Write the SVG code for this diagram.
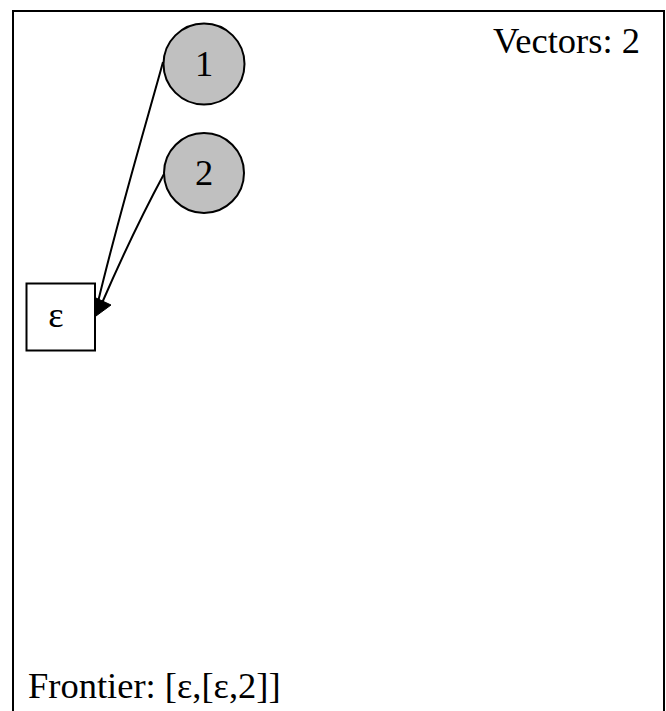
<svg xmlns="http://www.w3.org/2000/svg" width="666" height="711" viewBox="0 0 666 711">
<style>
text{font-family:"Liberation Serif","Times New Roman",serif;font-size:36.5px;fill:#000}
.n{fill:#c0c0c0;stroke:#000;stroke-width:2}
.b{fill:#fff;stroke:#000;stroke-width:2}
.e{fill:none;stroke:#000;stroke-width:2}
</style>
<rect x="0" y="0" width="666" height="711" fill="#fff"/>
<rect x="13" y="11" width="651" height="740" fill="none" stroke="#000" stroke-width="2"/>
<text x="640" y="53" text-anchor="end">Vectors: 2</text>
<text x="28" y="698">Frontier: [ε,[ε,2]]</text>
<g id="connectors">
<path class="e" d="M163,62 C150,110 120,210 98,302"/>
<path class="e" d="M164,174 C150,200 125,250 102,303"/>
<polygon points="96,298 111,305 96,316" fill="#000" stroke="#000" stroke-width="1"/>
</g>
<g id="node1">
<circle class="n" cx="204" cy="64" r="40.5"/>
<text x="204" y="76" text-anchor="middle">1</text>
</g>
<g id="node2">
<circle class="n" cx="204" cy="173" r="40"/>
<text x="204" y="185" text-anchor="middle">2</text>
</g>
<g id="eps">
<rect class="b" x="26.5" y="283.5" width="68.5" height="67"/>
<text x="56" y="327" text-anchor="middle">ε</text>
</g>
</svg>
